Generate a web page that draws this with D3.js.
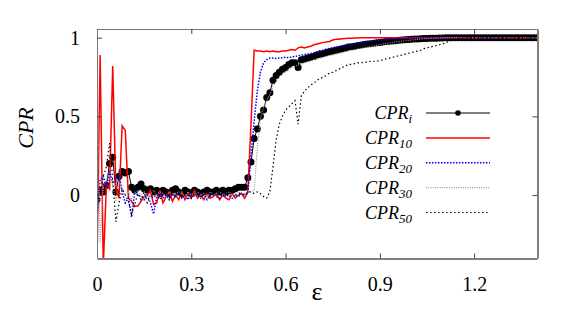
<!DOCTYPE html>
<html>
<head>
<meta charset="utf-8">
<script src="https://cdn.jsdelivr.net/npm/d3@7"></script>
<style>
  body { margin: 0; background: #fff; }
  svg { display: block; }
</style>
</head>
<body>
<div id="chart"></div>
<script>
// sampling grid of epsilon
const eps = [
  0.00,0.01,0.02,0.03,0.04,0.05,0.06,0.07,0.08,0.09,
  0.10,0.11,0.12,0.13,0.14,0.15,0.16,0.17,0.18,0.19,
  0.20,0.21,0.22,0.23,0.24,0.25,0.26,0.27,0.28,0.29,
  0.30,0.31,0.32,0.33,0.34,0.35,0.36,0.37,0.38,0.39,
  0.40,0.41,0.42,0.43,0.44,0.45,0.46,0.47,0.48,0.49,
  0.50,0.51,0.52,0.53,0.54,0.55,0.56,0.57,0.58,0.59,
  0.60,0.61,0.62,0.63,0.64,0.65,0.66,0.67,0.68,0.69,
  0.70,0.71,0.72,0.73,0.74,0.75,0.76,0.77,0.78,0.79,
  0.80,0.81,0.82,0.83,0.84,0.85,0.86,0.87,0.88,0.89,
  0.90,0.91,0.92,0.93,0.94,0.95,0.96,0.97,0.98,0.99,
  1.00,1.01,1.02,1.03,1.04,1.05,1.06,1.07,1.08,1.09,
  1.10,1.11,1.12,1.13,1.14,1.15,1.16,1.17,1.18,1.19,
  1.20,1.21,1.22,1.23,1.24,1.25,1.26,1.27,1.28,1.29,
  1.30,1.31,1.32,1.33,1.34,1.35,1.36,1.37,1.38,1.39,
  1.40
];

const cprI = [
  -0.03,0.03,0.02,0.06,0.20,0.24,0.02,0.12,0.15,0.14,
  0.15,0.05,0.03,0.05,0.07,0.04,0.03,0.04,0.02,0.03,
  0.01,0.03,0.02,0.01,0.03,0.04,0.02,0.01,0.03,0.02,
  0.01,0.03,0.02,0.01,0.02,0.03,0.02,0.02,0.03,0.02,
  0.03,0.02,0.03,0.03,0.04,0.05,0.05,0.05,0.11,0.21,
  0.36,0.42,0.50,0.54,0.62,0.65,0.73,0.76,0.78,0.80,
  0.81,0.83,0.84,0.84,0.81,0.86,0.865,0.87,0.875,0.88,
  0.89,0.895,0.90,0.905,0.91,0.915,0.92,0.925,0.93,0.935,
  0.94,0.943,0.946,0.95,0.953,0.956,0.959,0.962,0.965,0.967,
  0.97,0.972,0.975,0.977,0.979,0.981,0.983,0.985,0.987,0.989,
  0.99,0.991,0.992,0.993,0.994,0.995,0.996,0.997,0.997,0.998,
  0.998,0.999,0.999,0.999,0.999,0.999,0.999,0.999,0.999,0.999,
  1,1,1,1,1,1,1,1,1,1,
  1,1,1,1,1,1,1,1,1,1,
  1
];

const cpr10 = [
  -0.45,0.89,-0.45,0.07,0.04,0.82,0.04,-0.02,0.44,0.41,
  -0.02,-0.04,-0.07,-0.07,-0.04,-0.01,0.00,0.03,-0.06,-0.05,
  0.03,-0.05,-0.01,0.02,-0.04,0.00,-0.03,0.02,-0.03,0.01,
  -0.02,0.03,-0.02,0.00,-0.03,0.01,-0.02,-0.01,0.01,-0.03,
  0.00,-0.02,-0.03,0.01,-0.02,0.00,0.01,-0.02,0.02,0.45,
  0.92,0.915,0.915,0.91,0.915,0.91,0.915,0.91,0.91,0.915,
  0.915,0.92,0.925,0.92,0.935,0.94,0.935,0.94,0.945,0.955,
  0.96,0.965,0.97,0.972,0.976,0.985,0.99,0.99,0.993,0.995,
  0.996,0.997,0.998,0.998,0.999,1,1,1,1,1,
  1,1,1,1,1,1,1,1,1,1,
  1,1,1,1,1,1,1,1,1,1,
  1,1,1,1,1,1,1,1,1,1,
  1,1,1,1,1,1,1,1,1,1,
  1,1,1,1,1,1,1,1,1,1,
  1
];

const cpr20 = [
  -0.14,0.10,0.12,0.05,0.15,0.08,0.09,0.13,0.02,-0.05,
  -0.02,-0.14,0.02,0.00,-0.01,-0.03,0.00,-0.05,-0.12,-0.01,
  0.01,-0.02,0.00,-0.03,0.01,-0.01,0.02,-0.02,0.00,-0.03,
  0.01,-0.01,0.00,-0.02,0.01,-0.03,0.00,0.01,-0.01,-0.02,
  0.01,-0.01,0.00,-0.02,0.00,-0.01,0.01,0.00,0.01,0.25,
  0.47,0.66,0.78,0.84,0.86,0.87,0.87,0.868,0.87,0.872,
  0.875,0.873,0.878,0.88,0.885,0.89,0.893,0.897,0.90,0.905,
  0.91,0.918,0.922,0.928,0.932,0.936,0.94,0.944,0.948,0.952,
  0.955,0.958,0.961,0.964,0.967,0.97,0.973,0.976,0.979,0.982,
  0.985,0.987,0.989,0.991,0.993,0.995,0.996,0.997,0.998,0.999,
  1,1,1,1,1,1,1,1,1,1,
  1,1,1,1,1,1,1,1,1,1,
  1,1,1,1,1,1,1,1,1,1,
  1,1,1,1,1,1,1,1,1,1,
  1
];

const cpr30 = [
  0.85,-0.30,0.05,0.10,0.12,0.06,-0.04,0.08,0.05,0.00,
  0.02,-0.03,0.01,0.03,0.00,0.02,-0.01,0.01,0.03,0.00,
  0.02,0.01,-0.01,0.02,0.01,0.00,0.02,0.01,-0.01,0.02,
  0.00,0.01,0.02,0.00,0.01,-0.01,0.02,0.00,0.01,0.02,
  0.00,0.01,0.02,0.00,0.01,0.02,0.01,0.01,0.02,0.02,
  0.03,0.30,0.48,0.56,0.60,0.64,0.69,0.72,0.75,0.77,
  0.78,0.80,0.81,0.82,0.825,0.83,0.84,0.845,0.85,0.86,
  0.865,0.87,0.875,0.88,0.885,0.89,0.895,0.90,0.905,0.91,
  0.915,0.92,0.924,0.928,0.932,0.936,0.94,0.944,0.948,0.952,
  0.956,0.96,0.963,0.966,0.969,0.972,0.975,0.978,0.98,0.982,
  0.985,0.987,0.989,0.991,0.993,0.994,0.995,0.996,0.997,0.998,
  0.999,1,1,1,1,1,1,1,1,1,
  1,1,1,1,1,1,1,1,1,1,
  1,1,1,1,1,1,1,1,1,1,
  1
];

const cpr50 = [
  -0.05,0.00,0.12,0.18,0.33,0.10,-0.17,-0.05,0.04,0.00,
  -0.04,-0.12,-0.06,0.01,-0.03,0.02,-0.05,0.00,-0.02,0.01,
  -0.03,0.00,0.02,-0.02,0.01,-0.01,0.02,-0.02,0.01,0.00,
  -0.02,0.01,0.02,-0.01,0.00,0.02,-0.01,0.01,0.00,0.02,
  -0.01,0.01,0.00,0.02,0.00,0.01,0.01,0.00,0.02,0.02,
  0.01,0.02,0.01,-0.01,-0.02,0.02,0.18,0.35,0.45,0.50,
  0.54,0.56,0.58,0.60,0.45,0.63,0.66,0.68,0.70,0.71,
  0.73,0.74,0.75,0.76,0.775,0.78,0.79,0.80,0.81,0.82,
  0.83,0.83,0.835,0.84,0.84,0.845,0.845,0.85,0.85,0.85,
  0.855,0.86,0.865,0.87,0.875,0.88,0.885,0.89,0.895,0.90,
  0.905,0.91,0.915,0.92,0.93,0.935,0.94,0.945,0.95,0.955,
  0.96,0.97,0.975,0.985,0.99,0.995,0.998,1,1,1,
  1,1,1,1,1,1,1,1,1,1,
  1,1,1,1,1,1,1,1,1,1,
  1
];

const seriesNames = ['i', '10', '20', '30', '50'];
const xTicks = [0, 0.3, 0.6, 0.9, 1.2];
const xTickLabels = ['0', '0.3', '0.6', '0.9', '1.2'];
const yTicks = [0, 0.5, 1];
const yTickLabels = ['0', '0.5', '1'];

// layout
const W = 581, H = 313;
const m = { left: 97, right: 537, top: 29, bottom: 258 };
const font = "'Liberation Serif', 'Times New Roman', 'DejaVu Serif', serif";

const svg = d3.select('#chart').append('svg')
  .attr('width', W)
  .attr('height', H)
  .attr('font-family', font);

const x = d3.scaleLinear().domain([0, 1.4]).range([m.left, m.right]);
const y = d3.scaleLinear().domain([-0.4, 1.055]).range([m.bottom, m.top]);

svg.append('defs').append('clipPath').attr('id', 'plot')
  .append('rect')
  .attr('x', m.left).attr('y', m.top)
  .attr('width', m.right - m.left).attr('height', m.bottom - m.top);

// styles for each series, same order as seriesNames
const styles = [
  { data: cprI, color: '#000', width: 1, dash: null },
  { data: cpr10, color: '#ff0000', width: 1.5, dash: null },
  { data: cpr20, color: '#0000ff', width: 1.5, dash: '1.5,1.5' },
  { data: cpr30, color: '#999', width: 1.2, dash: '1,1.3' },
  { data: cpr50, color: '#000', width: 1.2, dash: '1.5,2.5' }
];

const line = d3.line()
  .x((d, i) => x(eps[i]))
  .y(d => y(d));

const plot = svg.append('g').attr('clip-path', 'url(#plot)');

styles.forEach((s, k) => {
  plot.append('path')
    .datum(s.data)
    .attr('d', line)
    .attr('fill', 'none')
    .attr('stroke', s.color)
    .attr('stroke-width', s.width)
    .attr('stroke-dasharray', s.dash);
  if (k === 0) {
    plot.selectAll('circle.pt')
      .data(s.data)
      .enter()
      .append('circle')
      .attr('class', 'pt')
      .attr('cx', (d, i) => x(eps[i]))
      .attr('cy', d => y(d))
      .attr('r', 3.5)
      .attr('fill', '#000');
  }
});

// axes, ticks pointing inward
const fmtX = d => xTickLabels[xTicks.indexOf(d)];
const fmtY = d => yTickLabels[yTicks.indexOf(d)];

const axB = svg.append('g')
  .attr('transform', 'translate(0,' + (m.bottom + 0.5) + ')')
  .call(d3.axisBottom(x).tickValues(xTicks).tickFormat(fmtX)
    .tickSizeInner(-5).tickSizeOuter(0).tickPadding(18));
const axT = svg.append('g')
  .attr('transform', 'translate(0,' + m.top + ')')
  .call(d3.axisTop(x).tickValues(xTicks).tickFormat('')
    .tickSizeInner(-5).tickSizeOuter(0));
const axL = svg.append('g')
  .attr('transform', 'translate(' + m.left + ',0)')
  .call(d3.axisLeft(y).tickValues(yTicks).tickFormat(fmtY)
    .tickSizeInner(-5).tickSizeOuter(0).tickPadding(17));
const axR = svg.append('g')
  .attr('transform', 'translate(' + (m.right + 0.5) + ',0)')
  .call(d3.axisRight(y).tickValues(yTicks).tickFormat('')
    .tickSizeInner(-5).tickSizeOuter(0));

[axB, axT, axL, axR].forEach(a => {
  a.attr('font-family', font).attr('font-size', 20);
  a.selectAll('text').attr('fill', '#000');
  a.selectAll('.tick line').attr('stroke', '#444');
});
axT.select('.domain').attr('stroke', '#777');
axL.select('.domain').attr('stroke', '#777');
axB.select('.domain').attr('stroke', '#000');
axR.select('.domain').attr('stroke', '#000');

// axis titles
svg.append('text')
  .attr('transform', 'translate(33,128) rotate(-90)')
  .attr('text-anchor', 'middle')
  .attr('font-size', 22)
  .attr('font-style', 'italic')
  .text('CPR');

svg.append('text')
  .attr('x', 317)
  .attr('y', 300)
  .attr('text-anchor', 'middle')
  .attr('font-size', 26)
  .text('ε');

// legend
const legY = d3.scaleLinear().domain([0, 4]).range([113, 212.5]);
const leg = svg.append('g');
seriesNames.forEach((name, k) => {
  const s = styles[k];
  const cy = legY(k);
  const t = leg.append('text')
    .attr('x', 412)
    .attr('y', cy + 6)
    .attr('text-anchor', 'end')
    .attr('font-style', 'italic')
    .attr('font-size', 18);
  t.append('tspan').text('CPR');
  t.append('tspan').attr('dy', 4).attr('font-size', 13).text(name);

  leg.append('line')
    .attr('x1', 426).attr('x2', 490)
    .attr('y1', cy).attr('y2', cy)
    .attr('stroke', k === 0 ? '#555' : s.color)
    .attr('stroke-width', k === 0 ? 1.5 : s.width)
    .attr('stroke-dasharray', s.dash);
  if (k === 0) {
    leg.append('circle').attr('cx', 458).attr('cy', cy).attr('r', 2.8).attr('fill', '#000');
  }
});
</script>
</body>
</html>
